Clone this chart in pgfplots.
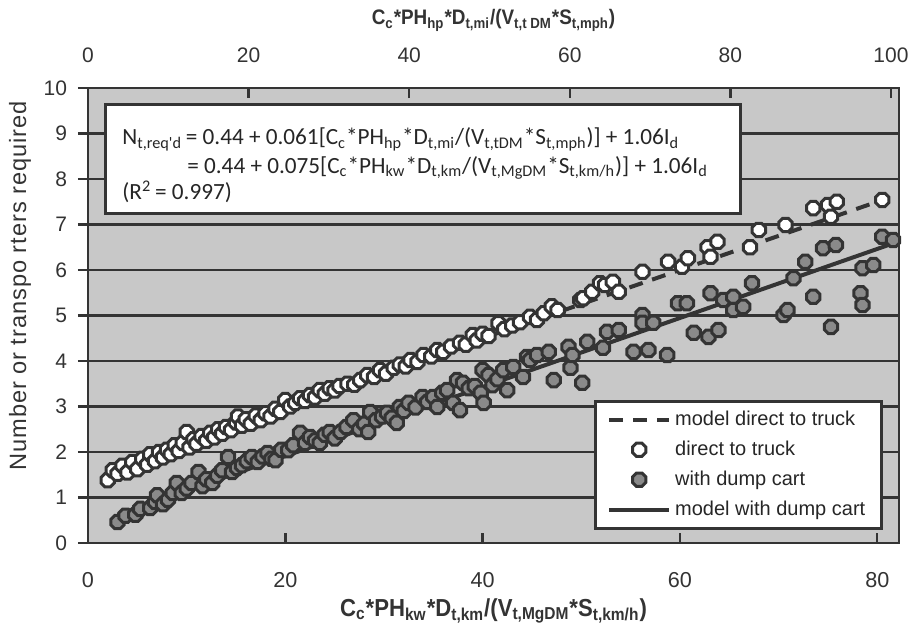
\documentclass[border=0pt]{standalone}
\usepackage{fontspec}
\setmainfont{Liberation Sans}
\newfontfamily\narrowfont[FakeStretch=0.9]{Liberation Sans}
\newfontfamily\eqfont{Carlito}
\usepackage{pgfplots}
\usepackage{pgfplotstable}
\pgfplotsset{compat=1.18}

\definecolor{plotbg}{RGB}{200,200,200}
\definecolor{ink}{RGB}{52,52,52}
\definecolor{dotgrey}{RGB}{138,138,138}

% octagon marker, like the low-res Excel circles
\pgfdeclareplotmark{oct}{%
  \pgfpathmoveto{\pgfqpointpolar{22.5}{\pgfplotmarksize}}%
  \pgfpathlineto{\pgfqpointpolar{67.5}{\pgfplotmarksize}}%
  \pgfpathlineto{\pgfqpointpolar{112.5}{\pgfplotmarksize}}%
  \pgfpathlineto{\pgfqpointpolar{157.5}{\pgfplotmarksize}}%
  \pgfpathlineto{\pgfqpointpolar{202.5}{\pgfplotmarksize}}%
  \pgfpathlineto{\pgfqpointpolar{247.5}{\pgfplotmarksize}}%
  \pgfpathlineto{\pgfqpointpolar{292.5}{\pgfplotmarksize}}%
  \pgfpathlineto{\pgfqpointpolar{337.5}{\pgfplotmarksize}}%
  \pgfpathclose
  \pgfusepathqfillstroke}

\pgfplotsset{
  lineleg/.style={legend image code/.code={\draw[##1] (0pt,0pt) -- (30pt,0pt);}},
  markleg/.style={legend image code/.code={\draw[##1,mark repeat=2,mark phase=2]
      plot coordinates {(0pt,0pt) (15pt,0pt) (30pt,0pt)};}},
}

% direct to truck
\pgfplotstableread{
x y
2.0 1.38
2.5 1.60
3.0 1.52
3.5 1.70
4.0 1.55
4.5 1.78
5.0 1.62
5.5 1.85
6.0 1.72
6.3 1.95
6.8 1.80
7.2 2.00
7.6 1.88
8.0 2.05
8.4 1.95
8.8 2.15
9.2 2.02
9.6 2.20
10.0 2.44
10.3 2.10
10.7 2.28
11.0 2.18
11.5 2.35
12.0 2.25
12.4 2.42
12.8 2.32
13.2 2.50
13.6 2.40
14.0 2.55
14.5 2.48
15.0 2.65
15.2 2.78
15.6 2.58
16.0 2.72
16.5 2.62
17.0 2.80
17.5 2.70
18.0 2.85
18.5 2.78
19.0 2.95
19.5 2.88
20.0 3.14
20.5 3.00
21.0 3.08
21.5 3.18
22.0 3.12
22.5 3.25
23.0 3.20
23.5 3.36
24.0 3.28
24.5 3.40
25.0 3.35
25.5 3.45
26.3 3.50
27.0 3.48
27.6 3.58
28.3 3.69
29.0 3.65
29.6 3.80
30.2 3.72
31.0 3.85
31.6 3.92
32.2 3.88
32.7 4.02
33.4 3.98
34.0 4.13
34.8 4.10
35.4 4.24
36.0 4.20
36.8 4.32
37.7 4.40
38.3 4.36
39.0 4.57
39.4 4.45
40.0 4.60
40.6 4.55
41.6 4.83
42.2 4.70
43.0 4.78
43.8 4.85
44.8 4.97
45.5 4.90
46.2 5.05
47.0 5.20
47.6 5.12
49.9 5.34
50.2 5.38
51.1 5.52
51.9 5.71
52.4 5.67
53.2 5.74
53.8 5.52
56.2 5.96
58.8 6.18
60.2 6.07
60.8 6.26
62.8 6.50
63.1 6.29
63.8 6.62
67.1 6.50
68.0 6.88
70.7 6.99
73.5 7.36
75.0 7.43
75.3 7.17
75.9 7.50
80.5 7.54
}\truckdata

% with dump cart
\pgfplotstableread{
x y
3.0 0.46
3.8 0.60
4.8 0.62
5.3 0.75
6.3 0.77
6.8 0.90
7.0 1.05
7.6 0.85
8.1 0.95
8.6 1.10
9.0 1.32
9.5 1.10
10.0 1.20
10.5 1.32
11.2 1.56
11.6 1.25
12.0 1.40
12.6 1.32
13.1 1.48
13.6 1.60
14.2 1.89
14.6 1.56
15.1 1.65
15.6 1.71
16.1 1.80
16.6 1.89
17.2 1.78
17.7 1.90
18.2 1.98
18.6 1.85
19.0 1.82
19.6 2.05
20.3 2.04
20.8 2.15
21.5 2.42
22.0 2.20
22.5 2.33
23.0 2.25
23.5 2.20
24.0 2.38
24.5 2.44
25.0 2.30
25.6 2.44
26.2 2.55
26.9 2.70
27.5 2.50
28.0 2.62
28.4 2.44
28.6 2.88
29.2 2.70
29.8 2.78
30.3 2.86
30.8 2.75
31.3 2.64
31.6 2.99
32.0 2.90
32.5 3.08
33.2 2.98
33.9 3.21
34.4 3.10
35.0 3.21
35.4 2.99
35.9 3.30
36.4 3.36
37.0 3.08
37.4 3.58
37.7 2.92
38.0 3.52
38.6 3.40
39.2 3.45
39.8 3.30
40.0 3.80
40.1 3.08
40.6 3.69
41.0 3.47
41.5 3.60
42.1 3.80
42.5 3.36
43.1 3.87
44.1 3.65
44.5 4.09
44.8 4.02
45.5 4.13
46.7 4.20
47.2 3.58
48.7 4.31
48.9 3.85
49.1 4.13
50.1 3.52
50.6 4.42
52.2 4.29
52.6 4.64
53.8 4.68
55.3 4.20
56.2 5.01
56.2 4.84
56.8 4.24
57.3 4.84
58.7 4.13
59.8 5.27
60.7 5.27
61.4 4.62
62.9 4.53
63.1 5.49
63.9 4.68
64.4 5.34
65.4 5.41
65.4 5.12
66.4 5.19
67.3 5.71
70.5 5.01
70.9 5.12
71.5 5.82
72.7 6.18
73.5 5.41
74.5 6.48
75.3 4.75
75.8 6.55
78.3 5.49
78.5 5.23
78.5 6.04
79.6 6.11
80.5 6.73
81.6 6.66
}\cartdata

\begin{document}
\begin{tikzpicture}
\useasboundingbox (-44pt,-45pt) rectangle (411.5pt,271.5pt);
\begin{axis}[
    scale only axis,
    width=405.5pt, height=227.5pt,
    xmin=0, xmax=82.2, ymin=0, ymax=10,
    axis background/.style={fill=plotbg},
    axis line style={ink, line width=1.4pt},
    xtick={0,20,...,80}, ytick={0,1,...,10},
    xtick pos=bottom, ytick pos=left,
    xtick align=inside, ytick align=outside,
    major tick length=5pt,
    tick style={ink, line width=1.2pt},
    ymajorgrids,
    major grid style={ink, line width=1.4pt},
    /pgf/number format/assume math mode=true,
    x tick label style={font=\fontsize{10.8}{10.8}\selectfont, text=black!80, yshift=-11pt},
    y tick label style={font=\fontsize{10.5}{10.5}\selectfont, text=black!80, xshift=-2pt},
    legend cell align=left,
    legend style={at={(rel axis cs:0.980,0.029)}, anchor=south east,
        fill=white, draw=ink, line width=1.5pt,
        font=\fontsize{10}{12}\selectfont, text=black!85,
        inner xsep=6pt, inner ysep=3pt, row sep=2.2pt},
    clip=false,
]
\addplot[ink, line width=2pt, dash pattern=on 7pt off 5pt, lineleg]
    coordinates {(2,1.65) (81,7.575)};
\addlegendentry{model direct to truck}
\addplot[only marks, mark=oct, mark size=3.6pt,
    mark options={draw=ink, fill=white, line width=1.5pt}, markleg]
    table[x=x,y=y] {\truckdata};
\addlegendentry{direct to truck}
\addplot[only marks, mark=oct, mark size=3.6pt,
    mark options={draw=ink, fill=dotgrey, line width=1.5pt}, markleg]
    table[x=x,y=y] {\cartdata};
\addlegendentry{with dump cart}
\addplot[ink, line width=2pt, lineleg]
    coordinates {(3,0.62) (82.2,6.63)};
\addlegendentry{model with dump cart}

% equation box
\draw[ink, line width=1.5pt, fill=white]
    (rel axis cs:0.021,0.963) rectangle (rel axis cs:0.804,0.725);
\begin{scope}[every node/.style={anchor=base west, inner sep=0pt,
    font=\eqfont\fontsize{11.6}{14}\selectfont, text=black!85}]
\node at (rel axis cs:0.0419,0.875) {N\textsubscript{t,req'd}\,= 0.44 + 0.061[C\textsubscript{c}*PH\textsubscript{hp}*D\textsubscript{t,mi}/(V\textsubscript{t,tDM}*S\textsubscript{t,mph})] + 1.06I\textsubscript{d}};
\node at (rel axis cs:0.122,0.813) {= 0.44 + 0.075[C\textsubscript{c}*PH\textsubscript{kw}*D\textsubscript{t,km}/(V\textsubscript{t,MgDM}*S\textsubscript{t,km/h})] + 1.06I\textsubscript{d}};
\node at (rel axis cs:0.0419,0.754) {(R\textsuperscript{2}\,= 0.997)};
\end{scope}
\end{axis}

% top axis, miles and hp units
\begin{axis}[
    scale only axis,
    width=405.5pt, height=227.5pt,
    xmin=0, xmax=101, ymin=0, ymax=10,
    axis x line*=top, axis y line=none,
    x axis line style={draw=none},
    xtick={0,20,...,100},
    xtick align=inside,
    major tick length=5pt,
    tick style={ink, line width=1.2pt},
    /pgf/number format/assume math mode=true,
    x tick label style={font=\fontsize{10.5}{10.5}\selectfont, text=black!80, yshift=9pt},
]
\end{axis}

% axis titles
\node[anchor=base, font=\narrowfont\bfseries\fontsize{12.3}{13}\selectfont, text=black!80]
    at (202.75pt,-36.5pt)
    {C\textsubscript{c}*PH\textsubscript{kw}*D\textsubscript{t,km}/(V\textsubscript{t,MgDM}*S\textsubscript{t,km/h})};
\node[anchor=base, font=\narrowfont\bfseries\fontsize{10.5}{12}\selectfont, text=black!80]
    at (202.75pt,259pt)
    {C\textsubscript{c}*PH\textsubscript{hp}*D\textsubscript{t,mi}/(V\textsubscript{t,t DM}*S\textsubscript{t,mph})};
\node[rotate=90, anchor=center, text=black!80,
    font=\fontsize{11.8}{13}\selectfont\addfontfeatures{LetterSpace=4}]
    at (-34pt,128.5pt) {Number or transpo rters required};
\end{tikzpicture}
\end{document}
